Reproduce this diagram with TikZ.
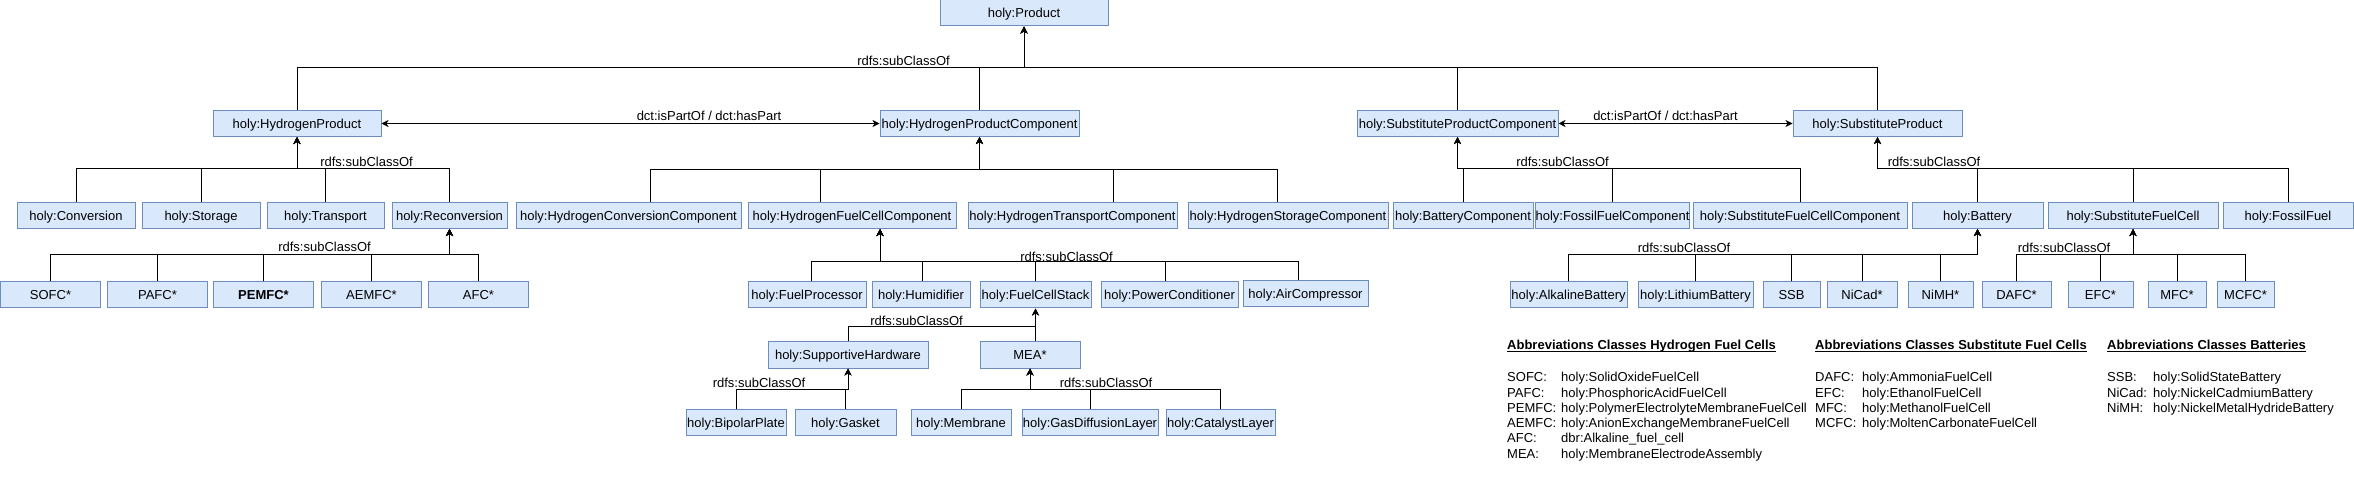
\documentclass[tikz,border=0pt]{standalone}
\usepackage{fontspec}
\setmainfont{Liberation Sans}
\usepackage{tikz}
\usetikzlibrary{arrows.meta}
\definecolor{clsfill}{HTML}{DAE8FC}
\definecolor{clsline}{HTML}{6C8EBF}

\begin{document}
\begin{tikzpicture}[
    x=1pt, y=-1pt, >={Stealth[length=7pt,width=7pt,inset=2pt]},
    cls/.style     ={draw=clsline, fill=clsfill, line width=1pt, minimum height=26pt, inner xsep=0pt, inner ysep=0pt, text height=9.5pt, text depth=0pt, font=\fontsize{13}{15.3}\selectfont},
    subcls/.style  ={draw=black, line width=1pt, ->},
    partrel/.style ={draw=black, line width=1pt, <->},
    elab/.style    ={font=\fontsize{13}{15.3}\selectfont, inner sep=0pt, anchor=base},
    leghead/.style ={font=\fontsize{13}{15.3}\selectfont\bfseries, inner sep=0pt, anchor=base west},
    legtext/.style ={font=\fontsize{13}{15.3}\selectfont, inner sep=0pt, anchor=base west}
]
\useasboundingbox (0,0) rectangle (2354,494);

% top class
\node[cls, minimum width=168pt] (prod) at (1024,13) {holy:Product};

% second level (y=123.5)
\node[cls, minimum width=168pt] (hp)  at (297,123.5)    {holy:HydrogenProduct};
\node[cls, minimum width=199pt] (hpc) at (979.5,123.5)  {holy:HydrogenProductComponent};
\node[cls, minimum width=201pt] (spc) at (1457.5,123.5) {holy:SubstituteProductComponent};
\node[cls, minimum width=169pt] (sp)  at (1877.5,123.5) {holy:SubstituteProduct};

% third level (y=215.5)
\node[cls, minimum width=118pt] (conv)  at (76,215.5)     {holy:Conversion};
\node[cls, minimum width=118pt] (stor)  at (201,215.5)    {holy:Storage};
\node[cls, minimum width=117pt] (trans) at (325.5,215.5)  {holy:Transport};
\node[cls, minimum width=115pt] (recon) at (449.5,215.5)  {holy:Reconversion};
\node[cls, minimum width=225pt] (hcc)   at (628.5,215.5)  {holy:HydrogenConversionComponent};
\node[cls, minimum width=208pt] (hfcc)  at (852,215.5)    {holy:HydrogenFuelCellComponent};
\node[cls, minimum width=209pt] (htc)   at (1072.5,215.5) {holy:HydrogenTransportComponent};
\node[cls, minimum width=200pt] (hsc)   at (1288,215.5)   {holy:HydrogenStorageComponent};
\node[cls, minimum width=140pt] (batc)  at (1463,215.5)   {holy:BatteryComponent};
\node[cls, minimum width=151pt] (ffc)   at (1612.5,215.5) {holy:FossilFuelComponent};
\node[cls, minimum width=214pt] (sfcc)  at (1800,215.5)   {holy:SubstituteFuelCellComponent};
\node[cls, minimum width=131pt] (bat)   at (1977.5,215.5) {holy:Battery};
\node[cls, minimum width=170pt] (sfc)   at (2133,215.5)   {holy:SubstituteFuelCell};
\node[cls, minimum width=130pt] (ff)    at (2288,215.5)   {holy:FossilFuel};

% fourth level (y=295)
\node[cls, minimum width=100pt] (sofc)  at (50.5,295)   {SOFC*};
\node[cls, minimum width=100pt] (pafc)  at (157.5,295)  {PAFC*};
\node[cls, minimum width=100pt] (pemfc) at (263.5,295)  {\bfseries PEMFC*};
\node[cls, minimum width=100pt] (aemfc) at (371.5,295)  {AEMFC*};
\node[cls, minimum width=100pt] (afc)   at (478.5,295)  {AFC*};
\node[cls, minimum width=118pt] (fp)    at (807,295)    {holy:FuelProcessor};
\node[cls, minimum width=98pt]  (hum)   at (921,295)    {holy:Humidifier};
\node[cls, minimum width=111pt] (fcs)   at (1035.5,295) {holy:FuelCellStack};
\node[cls, minimum width=137pt] (pc)    at (1169.5,295) {holy:PowerConditioner};
\node[cls, minimum width=125pt] (ac)    at (1305.5,294) {holy:AirCompressor};
\node[cls, minimum width=117pt] (alk)   at (1568.5,295) {holy:AlkalineBattery};
\node[cls, minimum width=115pt] (lith)  at (1695.5,295) {holy:LithiumBattery};
\node[cls, minimum width=57pt]  (ssb)   at (1791.5,295) {SSB};
\node[cls, minimum width=70pt]  (nicad) at (1862,295)   {NiCad*};
\node[cls, minimum width=65pt]  (nimh)  at (1940.5,295) {NiMH*};
\node[cls, minimum width=69pt]  (dafc)  at (2016.5,295) {DAFC*};
\node[cls, minimum width=65pt]  (efc)   at (2100.5,295) {EFC*};
\node[cls, minimum width=58pt]  (mfc)   at (2177,295)   {MFC*};
\node[cls, minimum width=57pt]  (mcfc)  at (2245.5,295) {MCFC*};

% fuel cell stack parts (y=355, y=422.5)
\node[cls, minimum width=160pt] (sh)  at (848,355)      {holy:SupportiveHardware};
\node[cls, minimum width=100pt] (mea) at (1030,355)     {MEA*};
\node[cls, minimum width=100pt] (bp)  at (736,422.5)    {holy:BipolarPlate};
\node[cls, minimum width=101pt] (gas) at (845.5,422.5)  {holy:Gasket};
\node[cls, minimum width=100pt] (mem) at (961,422.5)    {holy:Membrane};
\node[cls, minimum width=136pt] (gdl) at (1090,422.5)   {holy:GasDiffusionLayer};
\node[cls, minimum width=109pt] (cat) at (1220.5,422.5) {holy:CatalystLayer};

% bus points of the subclass trees
\coordinate (prodbus) at (1024,68);
\coordinate (hpbus)   at (297,169);
\coordinate (hpcbus)  at (979.5,170);
\coordinate (spcbus)  at (1457.5,169);
\coordinate (spbus)   at (1877.5,169);
\coordinate (reconbus) at (449.5,255);
\coordinate (hfccbus) at (880,262);
\coordinate (batbus)  at (1977.5,255);
\coordinate (sfcbus)  at (2133,255);
\coordinate (fcsbus)  at (1035.5,327);
\coordinate (shbus)   at (848,389);
\coordinate (meabus)  at (1030,389);

% rdfs:subClassOf edges
\foreach \c in {hp,hpc,spc,sp}
  \draw[subcls] (\c) |- (prodbus) -- (prod);
\foreach \c in {conv,stor,trans,recon}
  \draw[subcls] (\c) |- (hpbus) -- (hp);
\foreach \c/\dx in {hcc/21.5, hfcc/-32, htc/40.5, hsc/-11}
  \draw[subcls] ([xshift=\dx pt]\c.north) |- (hpcbus) -- (hpc);
\foreach \c in {batc,ffc,sfcc}
  \draw[subcls] (\c) |- (spcbus) -- (spc);
\foreach \c in {bat,sfc,ff}
  \draw[subcls] (\c) |- (spbus) -- (sp);
\foreach \c in {sofc,pafc,pemfc,aemfc,afc}
  \draw[subcls] (\c) |- (reconbus) -- (recon);
\foreach \c/\dx in {fp/4, hum/1, fcs/0, pc/-4.5, ac/-7.5}
  \draw[subcls] ([xshift=\dx pt]\c.north) |- (hfccbus) -- (hfcc.south -| hfccbus);
\foreach \c in {alk,lith,ssb,nicad,nimh}
  \draw[subcls] (\c) |- (batbus) -- (bat);
\foreach \c in {dafc,efc,mfc,mcfc}
  \draw[subcls] (\c) |- (sfcbus) -- (sfc);
\draw[subcls] (sh) |- (fcsbus) -- (fcs);
\draw[subcls] (mea.north -| fcs) -- (fcs);
\foreach \c in {bp,gas}
  \draw[subcls] (\c) |- (shbus) -- (sh);
\foreach \c in {mem,gdl,cat}
  \draw[subcls] (\c) |- (meabus) -- (mea);

% dct:isPartOf / dct:hasPart
\draw[partrel] (hp) -- (hpc);
\draw[partrel] (spc) -- (sp);

% edge labels
\node[elab] (lprod)  at (903.5,66)   {rdfs:subClassOf};
\node[elab] (lhp)    at (366.5,166.5) {rdfs:subClassOf};
\node[elab] (lspc)   at (1562.5,166.5) {rdfs:subClassOf};
\node[elab] (lsp)    at (1934,166.5) {rdfs:subClassOf};
\node[elab] (lrecon) at (324.5,252)  {rdfs:subClassOf};
\node[elab] (lhfcc)  at (1066.5,261.5) {rdfs:subClassOf};
\node[elab] (lbat)   at (1684,253)   {rdfs:subClassOf};
\node[elab] (lsfc)   at (2064,253)   {rdfs:subClassOf};
\node[elab] (lfcs)   at (916.5,326)  {rdfs:subClassOf};
\node[elab] (lsh)    at (759,387)    {rdfs:subClassOf};
\node[elab] (lmea)   at (1106,387)   {rdfs:subClassOf};
\node[elab] (lpart1) at (709,120.5)  {dct:isPartOf / dct:hasPart};
\node[elab] (lpart2) at (1665.5,120.5) {dct:isPartOf / dct:hasPart};

% abbreviation legend
\node[leghead] (legh1) at (1507,349.5) {\underline{\smash{Abbreviations Classes Hydrogen Fuel Cells}}};
\node[leghead] (legh2) at (1815,349.5) {\underline{\smash{Abbreviations Classes Substitute Fuel Cells}}};
\node[leghead] (legh3) at (2107,349.5) {\underline{\smash{Abbreviations Classes Batteries}}};
\node[legtext] (legt1) at (1507,381.7) {\begin{tabular}[t]{@{}p{54pt}@{}l@{}}
  SOFC:  & holy:SolidOxideFuelCell\\
  PAFC:  & holy:PhosphoricAcidFuelCell\\
  PEMFC: & holy:PolymerElectrolyteMembraneFuelCell\\
  AEMFC: & holy:AnionExchangeMembraneFuelCell\\
  AFC:   & dbr:Alkaline\_fuel\_cell\\
  MEA:   & holy:MembraneElectrodeAssembly
\end{tabular}};
\node[legtext] (legt2) at (1815,381.7) {\begin{tabular}[t]{@{}p{47pt}@{}l@{}}
  DAFC: & holy:AmmoniaFuelCell\\
  EFC:  & holy:EthanolFuelCell\\
  MFC:  & holy:MethanolFuelCell\\
  MCFC: & holy:MoltenCarbonateFuelCell
\end{tabular}};
\node[legtext] (legt3) at (2107,381.7) {\begin{tabular}[t]{@{}p{46pt}@{}l@{}}
  SSB:   & holy:SolidStateBattery\\
  NiCad: & holy:NickelCadmiumBattery\\
  NiMH:  & holy:NickelMetalHydrideBattery
\end{tabular}};
\end{tikzpicture}
\end{document}
